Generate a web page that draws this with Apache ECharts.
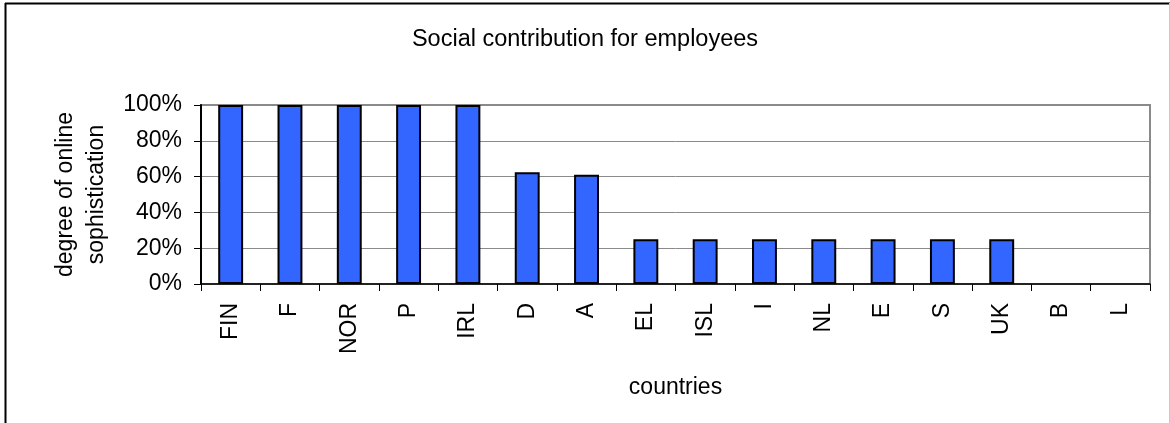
<!DOCTYPE html>
<html>
<head>
<meta charset="utf-8">
<title>Social contribution for employees</title>
<script src="https://cdn.jsdelivr.net/npm/echarts@6/dist/echarts.min.js"></script>
<style>
  html, body { margin: 0; padding: 0; background: #ffffff; }
  #chart { width: 1170px; height: 423px; }
</style>
</head>
<body>
<div id="chart"></div>
<script>
// Countries, in the order they are ranked
const countries = ['FIN', 'F', 'NOR', 'P', 'IRL', 'D', 'A', 'EL', 'ISL', 'I', 'NL', 'E', 'S', 'UK', 'B', 'L'];
// Degree of online sophistication, in percent
const sophistication = [100, 100, 100, 100, 100, 62.5, 61, 25, 25, 25, 25, 25, 25, 25, 0, 0];
// Value-axis ticks, in percent
const yTicks = [0, 20, 40, 60, 80, 100];

const FONT = '"Liberation Sans", Arial, Helvetica, sans-serif';
const chart = echarts.init(document.getElementById('chart'), null, { renderer: 'canvas' });

// zero-height bars get no outline so nothing is drawn over the axis
const barData = sophistication.map(v => v === 0
  ? { value: v, itemStyle: { borderWidth: 0 } }
  : v);

chart.setOption({
  backgroundColor: '#ffffff',
  animation: false,
  title: {
    text: 'Social contribution for employees',
    left: 'center',
    top: 23,
    textStyle: { fontFamily: FONT, fontSize: 23.5, fontWeight: 'normal', color: '#000000' }
  },
  grid: {
    left: 201, right: 20, top: 105, bottom: 139,
    show: true, borderColor: '#8a8a8a', borderWidth: 2, backgroundColor: '#ffffff'
  },
  xAxis: {
    type: 'category',
    data: countries,
    name: 'countries',
    nameLocation: 'middle',
    nameGap: 92,
    nameTextStyle: { fontFamily: FONT, fontSize: 23, color: '#000000' },
    axisLine: { lineStyle: { color: '#000000', width: 1.5 } },
    axisTick: { show: true, length: 7, lineStyle: { color: '#000000', width: 1 } },
    axisLabel: { rotate: 90, margin: 19, fontFamily: FONT, fontSize: 23, color: '#000000', interval: 0 }
  },
  yAxis: {
    type: 'value',
    min: yTicks[0],
    max: yTicks[yTicks.length - 1],
    interval: yTicks[1] - yTicks[0],
    name: 'degree of online\nsophistication',
    nameLocation: 'middle',
    nameRotate: 90,
    nameGap: 88,
    nameTextStyle: { fontFamily: FONT, fontSize: 23, color: '#000000', lineHeight: 31, align: 'center' },
    axisLine: { show: true, lineStyle: { color: '#000000', width: 2 } },
    axisTick: { show: true, length: 7, lineStyle: { color: '#000000', width: 1 } },
    axisLabel: { margin: 19, fontFamily: FONT, fontSize: 23, color: '#000000', formatter: '{value}%' },
    splitLine: { show: true, lineStyle: { color: '#8a8a8a', width: 1 } }
  },
  series: [{
    type: 'bar',
    data: barData,
    barWidth: '42%',
    itemStyle: { color: '#3366ff', borderColor: '#000000', borderWidth: 2 }
  }],
  graphic: [
    // outer chart frame: dark top and left edges, faint right edge
    { type: 'line', shape: { x1: 5, y1: 3.5, x2: 1170, y2: 3.5 }, style: { stroke: '#000000', lineWidth: 2 } },
    { type: 'line', shape: { x1: 5.5, y1: 3, x2: 5.5, y2: 423 }, style: { stroke: '#000000', lineWidth: 2 } },
    { type: 'line', shape: { x1: 1169.5, y1: 3, x2: 1169.5, y2: 423 }, style: { stroke: '#c8c8c8', lineWidth: 1 } }
  ]
});
</script>
</body>
</html>
